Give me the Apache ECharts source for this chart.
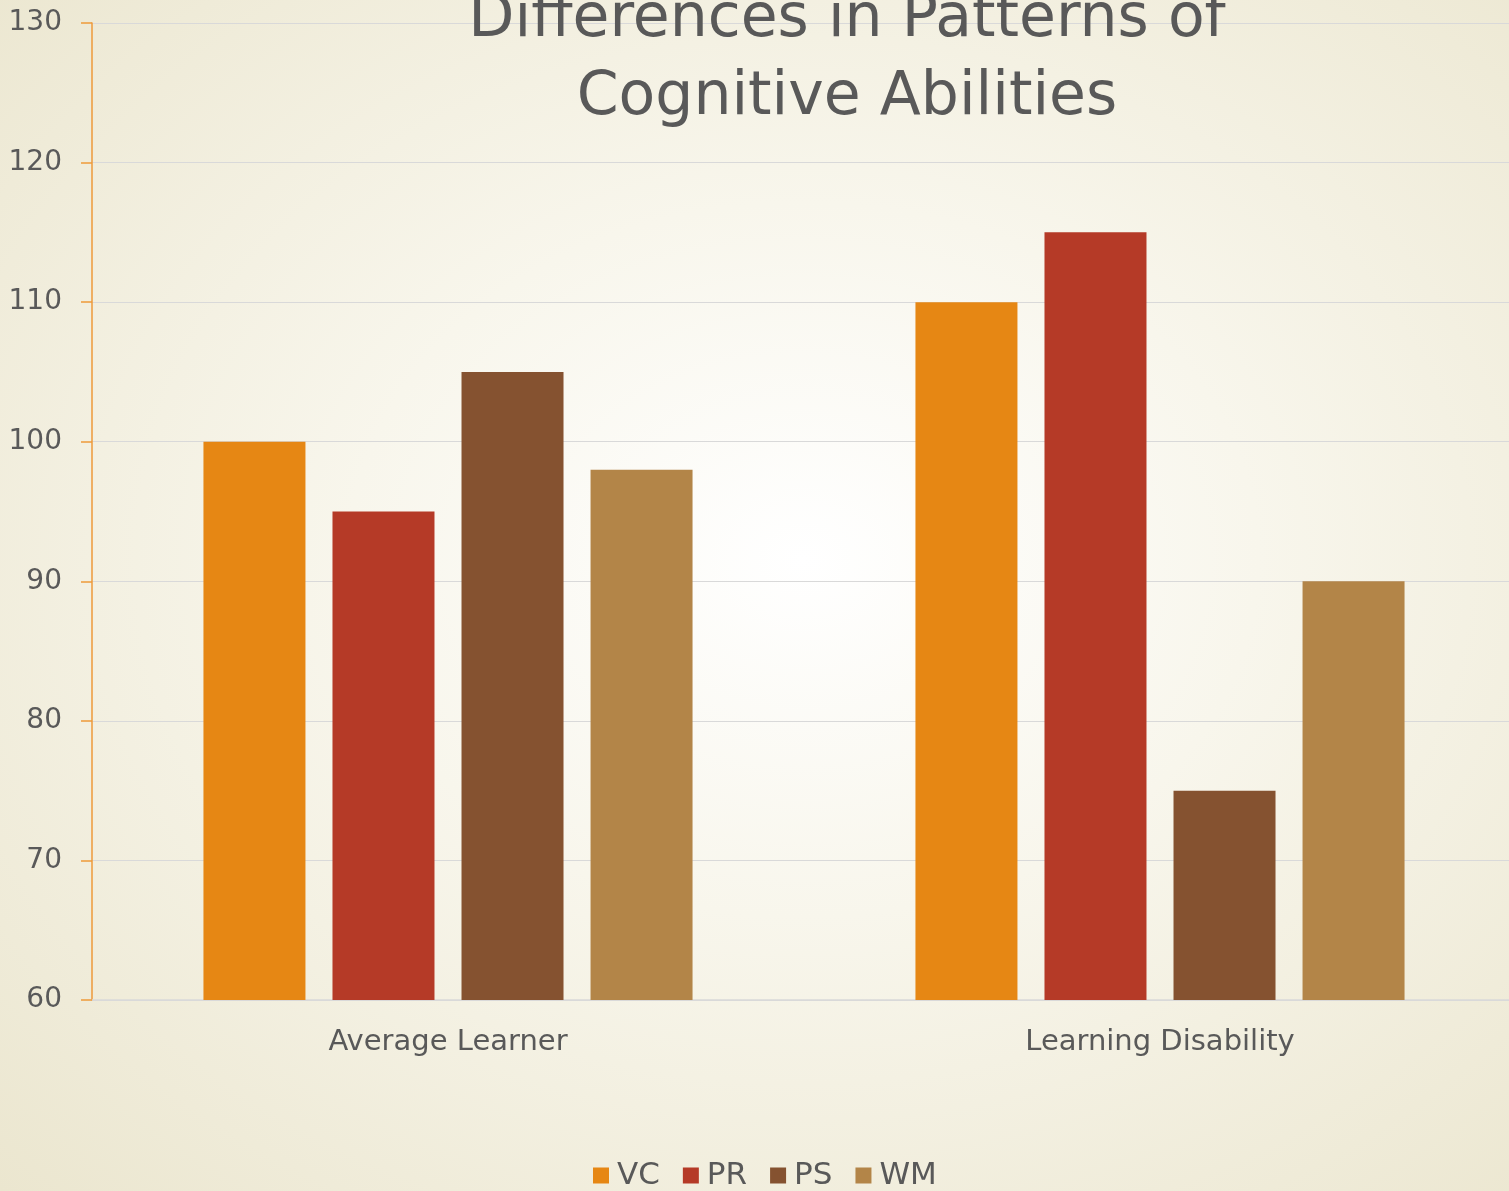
<!DOCTYPE html>
<html>
<head>
<meta charset="utf-8">
<script src="https://cdn.jsdelivr.net/npm/echarts@6/dist/echarts.min.js"></script>
<style>
  html, body { margin: 0; padding: 0; overflow: hidden; }
  #chart {
    width: 1516px;
    height: 1191px;
    background: radial-gradient(ellipse at 53% 47%, #ffffff 0%, #f8f6ec 40%, #ebe6cf 100%);
  }
</style>
</head>
<body>
<div id="chart"></div>
<script>
  var categories = ['Average Learner', 'Learning Disability']
  var seriesNames = ['VC', 'PR', 'PS', 'WM']
  var vcData = [100, 110]
  var prData = [95, 115]
  var psData = [105, 75]
  var wmData = [98, 90]
  var colors = ['#E68714', '#B53A27', '#855230', '#B38548']

  var font = "'Century Gothic', 'DejaVu Sans', sans-serif"
  var myChart = echarts.init(document.getElementById('chart'))

  var allData = [vcData, prData, psData, wmData]
  var series = []
  for (var i = 0; i < seriesNames.length; i++) {
    series.push({
      name: seriesNames[i],
      type: 'bar',
      barWidth: 102,
      barGap: '26.5%',
      itemStyle: { color: colors[i] },
      data: allData[i]
    })
  }

  var option = {
    animation: false,
    color: colors,
    title: {
      text: 'Differences in Patterns of\nCognitive Abilities',
      left: 842,
      textAlign: 'center',
      top: -24,
      textStyle: {
        fontFamily: font,
        fontSize: 60,
        fontWeight: 'normal',
        lineHeight: 78,
        color: '#595959'
      }
    },
    legend: {
      data: seriesNames,
      top: 1155,
      left: 588,
      itemWidth: 16,
      itemHeight: 16,
      itemGap: 23,
      icon: 'rect',
      textStyle: { fontFamily: font, fontSize: 31, color: '#595959', padding: [0, 0, 0, 3] }
    },
    grid: {
      left: 92,
      right: 0,
      top: 23,
      bottom: 191,
      containLabel: false
    },
    xAxis: {
      type: 'category',
      data: categories,
      axisLine: { lineStyle: { color: '#d9d9d9', width: 1.5 } },
      axisTick: { show: false },
      axisLabel: { margin: 28, fontFamily: font, fontSize: 29, color: '#595959' }
    },
    yAxis: {
      type: 'value',
      min: 60,
      max: 130,
      interval: 10,
      axisLine: { show: true, lineStyle: { color: '#EE9A3A', width: 1.5 } },
      axisTick: { show: true, length: 11, lineStyle: { color: '#EE9A3A', width: 1.5 } },
      axisLabel: { margin: 30, fontFamily: font, fontSize: 28, color: '#595959' },
      splitLine: { lineStyle: { color: '#d9d9d9', width: 1.2 } }
    },
    series: series
  }

  myChart.setOption(option)
</script>
</body>
</html>
